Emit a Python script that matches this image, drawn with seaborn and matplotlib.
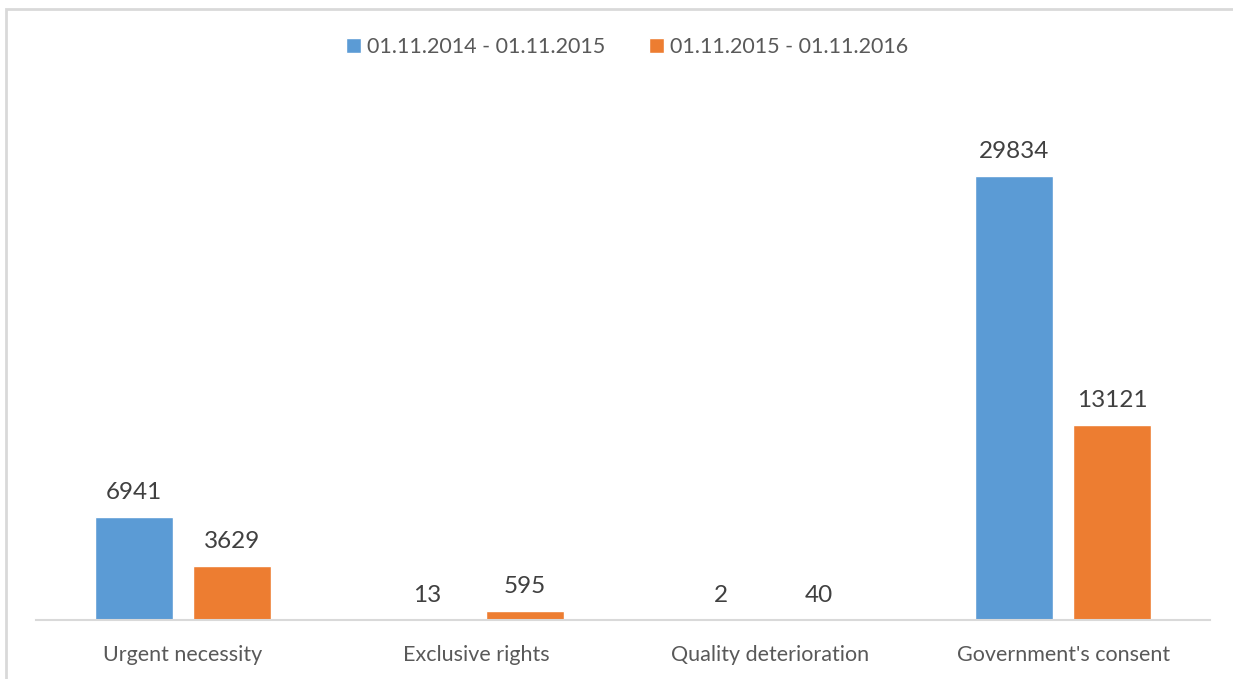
import pandas as pd
import matplotlib.pyplot as plt
import seaborn as sns
from matplotlib.patches import Rectangle

# Chart data
categories = ["Urgent necessity", "Exclusive rights", "Quality deterioration", "Government's consent"]
periods = ["01.11.2014 - 01.11.2015", "01.11.2015 - 01.11.2016"]
values_2015 = [6941, 13, 2, 29834]
values_2016 = [3629, 595, 40, 13121]
colors = ["#5B9BD5", "#ED7D31"]

df = pd.DataFrame({
    "category": categories * 2,
    "period": [periods[0]] * 4 + [periods[1]] * 4,
    "value": values_2015 + values_2016,
})

sns.set_style("white")
plt.rcParams["font.family"] = ["Lato", "DejaVu Sans"]
text_color = "#595959"

fig = plt.figure(figsize=(12.33, 6.79), dpi=100)
ax = fig.add_axes([36 / 1233, 1 - 620 / 679, (1210 - 36) / 1233, (620 - 99) / 679])

sns.barplot(data=df, x="category", y="value", hue="period", palette=colors,
            width=0.667, gap=0.2, saturation=1, ax=ax, legend=True)

for container in ax.containers:
    ax.bar_label(container, fmt="%d", padding=10, fontsize=17.5, color="#404040")

ax.set_ylim(0, 35000)
ax.set_xlim(-0.5, 3.5)
ax.set_xlabel("")
ax.set_ylabel("")
ax.set_yticks([])
ax.tick_params(axis="x", length=0, pad=18, labelsize=15.5, labelcolor=text_color)
for side in ["left", "right", "top"]:
    ax.spines[side].set_visible(False)
ax.spines["bottom"].set_color("#D9D9D9")
ax.spines["bottom"].set_linewidth(1.5)

handles, labels = ax.get_legend_handles_labels()
ax.legend_.remove()
fig.legend(handles, labels, loc="center", bbox_to_anchor=(627 / 1233, 1 - 47 / 679),
           ncol=2, frameon=False, fontsize=15.5, labelcolor=text_color,
           handlelength=0.7, handleheight=0.7, handletextpad=0.3, columnspacing=2.0)

# outer chart border
fig.patches.append(Rectangle((6 / 1233, -0.05), 1.1, 1 - 9 / 679 + 0.05,
                             transform=fig.transFigure, fill=False,
                             edgecolor="#D9D9D9", linewidth=2))

fig.savefig("out.png", dpi=100)
